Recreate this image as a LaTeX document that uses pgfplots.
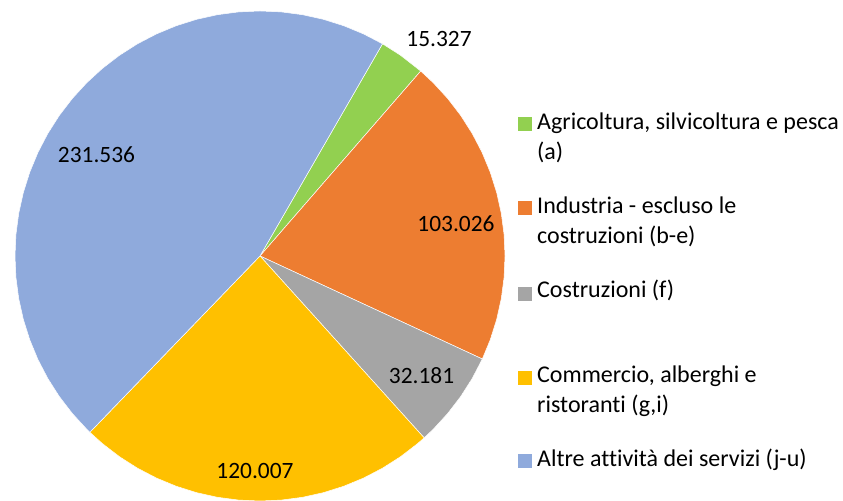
\documentclass[border=0pt]{standalone}
\usepackage{fontspec}
\setmainfont{Carlito}[Ligatures=NoCommon]
\usepackage{pgfplots}
\pgfplotsset{compat=1.18}

\definecolor{pgreen}{HTML}{92D050}
\definecolor{porange}{HTML}{ED7D31}
\definecolor{pgray}{HTML}{A5A5A5}
\definecolor{pyellow}{HTML}{FFC000}
\definecolor{pblue}{HTML}{8FAADC}

% values: 15.327, 103.026, 32.181, 120.007, 231.536 (sum 502.077)
% slice angles (deg, clockwise from 60): 10.990, 73.871, 23.074, 86.048, 166.016

\begin{document}
\begin{tikzpicture}[x=1bp,y=1bp]
\useasboundingbox (0,0) rectangle (843,501);
\begin{axis}[
    at={(260bp,245bp)}, anchor=center,
    scale only axis, width=490bp, height=490bp,
    xmin=-1, xmax=1, ymin=-1, ymax=1,
    hide axis, clip=false,
    every axis plot/.append style={data cs=polar, draw=white, line width=0.5bp},
]
\addplot[fill=pgreen] coordinates {(0,0) (60,1) (55,1) (49.01,1) (0,0)};
\addplot[fill=porange] coordinates {(0,0) (49.01,1) (45,1) (40,1) (35,1) (30,1) (25,1) (20,1)
    (15,1) (10,1) (5,1) (0,1) (-5,1) (-10,1) (-15,1) (-20,1) (-24.86,1) (0,0)};
\addplot[fill=pgray] coordinates {(0,0) (-24.86,1) (-30,1) (-35,1) (-40,1) (-45,1) (-47.93,1) (0,0)};
\addplot[fill=pyellow] coordinates {(0,0) (-47.93,1) (-50,1) (-55,1) (-60,1) (-65,1) (-70,1)
    (-75,1) (-80,1) (-85,1) (-90,1) (-95,1) (-100,1) (-105,1) (-110,1) (-115,1) (-120,1)
    (-125,1) (-130,1) (-133.98,1) (0,0)};
\addplot[fill=pblue] coordinates {(0,0) (-133.98,1) (-135,1) (-140,1) (-145,1) (-150,1) (-155,1)
    (-160,1) (-165,1) (-170,1) (-175,1) (-180,1) (-185,1) (-190,1) (-195,1) (-200,1) (-205,1)
    (-210,1) (-215,1) (-220,1) (-225,1) (-230,1) (-235,1) (-240,1) (-245,1) (-250,1) (-255,1)
    (-260,1) (-265,1) (-270,1) (-275,1) (-280,1) (-285,1) (-290,1) (-295,1) (-300,1) (0,0)};
\end{axis}

\begin{scope}[every node/.style={inner sep=0pt, font=\fontsize{23.4bp}{30bp}\selectfont}]
% data labels
\node at (439,462) {15.327};
\node at (456,277.5) {103.026};
\node at (421.5,125.5) {32.181};
\node at (255,30) {120.007};
\node at (96.5,346.5) {231.536};
\end{scope}

% legend
\begin{scope}[every node/.style={inner sep=0pt, anchor=base west, font=\fontsize{24bp}{30bp}\selectfont}]
\fill[pgreen]  (518,370) rectangle (532,384);
\fill[porange] (518,286) rectangle (532,300);
\fill[pgray]   (518,200) rectangle (532,214);
\fill[pyellow] (518,116) rectangle (532,130);
\fill[pblue]   (518,33)  rectangle (532,47);
\node at (537,371) {Agricoltura, silvicoltura e pesca};
\node at (537,341) {(a)};
\node at (537,287) {Industria - escluso le};
\node at (537,257) {costruzioni (b-e)};
\node at (537,203) {Costruzioni (f)};
\node at (537,118) {Commercio, alberghi e};
\node at (537,88)  {ristoranti (g,i)};
\node at (537,34)  {Altre attività dei servizi (j-u)};
\end{scope}
\end{tikzpicture}
\end{document}
